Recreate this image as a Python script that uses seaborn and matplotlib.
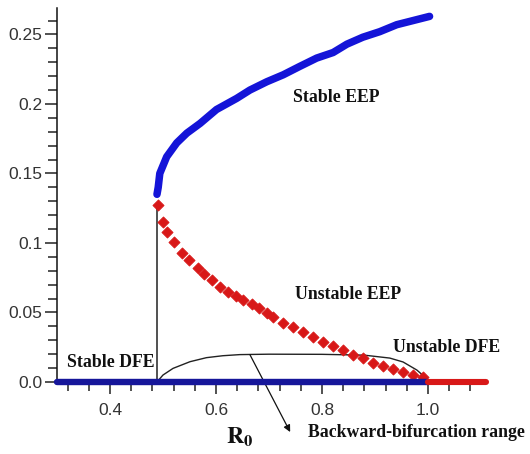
import matplotlib
matplotlib.use("Agg")
import matplotlib.pyplot as plt
from matplotlib.ticker import FixedLocator, MultipleLocator
import seaborn as sns
import pandas as pd

# Stable endemic equilibrium (upper branch)
eep_stable_r0 = [0.4887, 0.491, 0.494, 0.507, 0.526, 0.545, 0.570, 0.601, 0.639, 0.664,
                 0.696, 0.727, 0.758, 0.790, 0.821, 0.847, 0.877, 0.909, 0.941, 0.972, 1.003]
eep_stable_i = [0.135, 0.140, 0.150, 0.162, 0.172, 0.179, 0.186, 0.196, 0.204, 0.210,
                0.216, 0.221, 0.227, 0.233, 0.237, 0.243, 0.248, 0.252, 0.257, 0.260, 0.263]

# Unstable endemic equilibrium (lower branch)
eep_unstable_r0 = [0.4906, 0.500, 0.5075, 0.5208, 0.5358, 0.549, 0.566, 0.577, 0.592, 0.6075,
                   0.623, 0.638, 0.651, 0.668, 0.681, 0.696, 0.7075, 0.726, 0.745, 0.764,
                   0.783, 0.802, 0.821, 0.840, 0.858, 0.877, 0.896, 0.915, 0.934, 0.953,
                   0.972, 0.991]
eep_unstable_i = [0.1273, 0.1151, 0.1079, 0.1007, 0.0928, 0.0878, 0.0820, 0.0777, 0.0734, 0.0683,
                  0.0647, 0.0619, 0.0590, 0.0561, 0.0532, 0.0496, 0.0468, 0.0424, 0.0396, 0.0360,
                  0.0324, 0.0288, 0.0259, 0.0230, 0.0194, 0.0173, 0.0137, 0.0115, 0.0094, 0.0072,
                  0.0050, 0.0036]

# Disease-free equilibrium
dfe_stable_r0 = [0.3, 1.0]
dfe_unstable_r0 = [1.0, 1.11]
dfe_i = [0.0, 0.0]

# Saddle-node point and bracket marking the backward-bifurcation range
saddle_r0 = 0.4887
saddle_i = 0.1273
bracket_r0 = [0.4887, 0.500, 0.519, 0.551, 0.582, 0.613, 0.645, 0.70, 0.80, 0.88,
              0.928, 0.953, 0.979, 0.994, 1.0]
bracket_i = [0.0, 0.0050, 0.0098, 0.0146, 0.0175, 0.0189, 0.0197, 0.0200, 0.0199, 0.0193,
             0.0172, 0.0144, 0.0086, 0.0036, 0.0]

x_major = [0.4, 0.6, 0.8, 1.0]
x_labels = ["0.4", "0.6", "0.8", "1.0"]
y_major = [0.0, 0.05, 0.10, 0.15, 0.20, 0.25]
y_labels = ["0.0", "0.05", "0.1", "0.15", "0.2", "0.25"]

sns.set_theme(style="ticks")
plt.rcParams["font.family"] = ["Liberation Sans", "DejaVu Sans"]
plt.rcParams["mathtext.fontset"] = "stix"

fig = plt.figure(figsize=(5.3, 4.54), dpi=100)
ax = fig.add_axes([0.1075, 0.1586, 0.82, 0.8237])

stable_df = pd.DataFrame({"R0": eep_stable_r0, "I": eep_stable_i})
unstable_df = pd.DataFrame({"R0": eep_unstable_r0, "I": eep_unstable_i})

blue = "#1414d8"
navy = "#16169a"
red = "#d81818"

# Equilibrium branches
sns.lineplot(data=stable_df, x="R0", y="I", sort=False, color=blue, lw=5.4,
             solid_capstyle="round", ax=ax, zorder=4)
sns.scatterplot(data=unstable_df, x="R0", y="I", marker="D", s=32, color=red,
                edgecolor=red, linewidth=0.6, ax=ax, zorder=5)

# DFE line along the axis
ax.plot(dfe_stable_r0, dfe_i, color=navy, lw=4.6, solid_capstyle="round",
        clip_on=False, zorder=6)
ax.plot(dfe_unstable_r0, dfe_i, color=red, lw=4.4, solid_capstyle="round",
        clip_on=False, zorder=6)

# Turning point drop line and range bracket
ax.plot([saddle_r0, saddle_r0], [0.0, saddle_i], color="#222222", lw=1.1, zorder=3)
ax.plot(bracket_r0, bracket_i, color="#222222", lw=1.0, zorder=3)

ax.annotate("", xy=(0.740, -0.036), xytext=(0.664, 0.0197),
            arrowprops=dict(arrowstyle="-|>", color="#111111", lw=0.9,
                            mutation_scale=10, shrinkA=0, shrinkB=0),
            annotation_clip=False)

label_kw = dict(family="Liberation Serif", fontweight="bold", fontsize=12.8,
                color="#111111", va="center", ha="left")
ax.text(0.745, 0.205, "Stable EEP", **label_kw)
ax.text(0.749, 0.0626, "Unstable EEP", **label_kw)
ax.text(0.934, 0.0245, "Unstable DFE", **label_kw)
ax.text(0.319, 0.0137, "Stable DFE", zorder=7, **label_kw)
ax.text(0.774, -0.036, "Backward-bifurcation range", clip_on=False, **label_kw)

ax.set_xlim(0.3, 1.12)
ax.set_ylim(0.0, 0.269)

ax.xaxis.set_major_locator(FixedLocator(x_major))
ax.set_xticklabels(x_labels)
ax.xaxis.set_minor_locator(FixedLocator([0.32 + 0.04 * k for k in range(20)]))
ax.yaxis.set_major_locator(FixedLocator(y_major))
ax.set_yticklabels(y_labels)
ax.yaxis.set_minor_locator(MultipleLocator(0.01))

ax.tick_params(which="major", length=8.6, width=1.1, color="#222222",
               labelsize=12.5, labelcolor="#333333", pad=2)
ax.tick_params(which="minor", length=6.2, width=1.1, color="#222222")
ax.tick_params(axis="x", which="major", pad=6.5)

for side in ("top", "right", "bottom"):
    ax.spines[side].set_visible(False)
ax.spines["left"].set_color("#111111")
ax.spines["left"].set_linewidth(1.1)

ax.set_xlabel(r"$\mathbf{R_0}$", fontsize=17, color="#111111", va="center")
ax.xaxis.set_label_coords(0.421, -0.147)
ax.set_ylabel("")

fig.savefig("out.png", dpi=100)
